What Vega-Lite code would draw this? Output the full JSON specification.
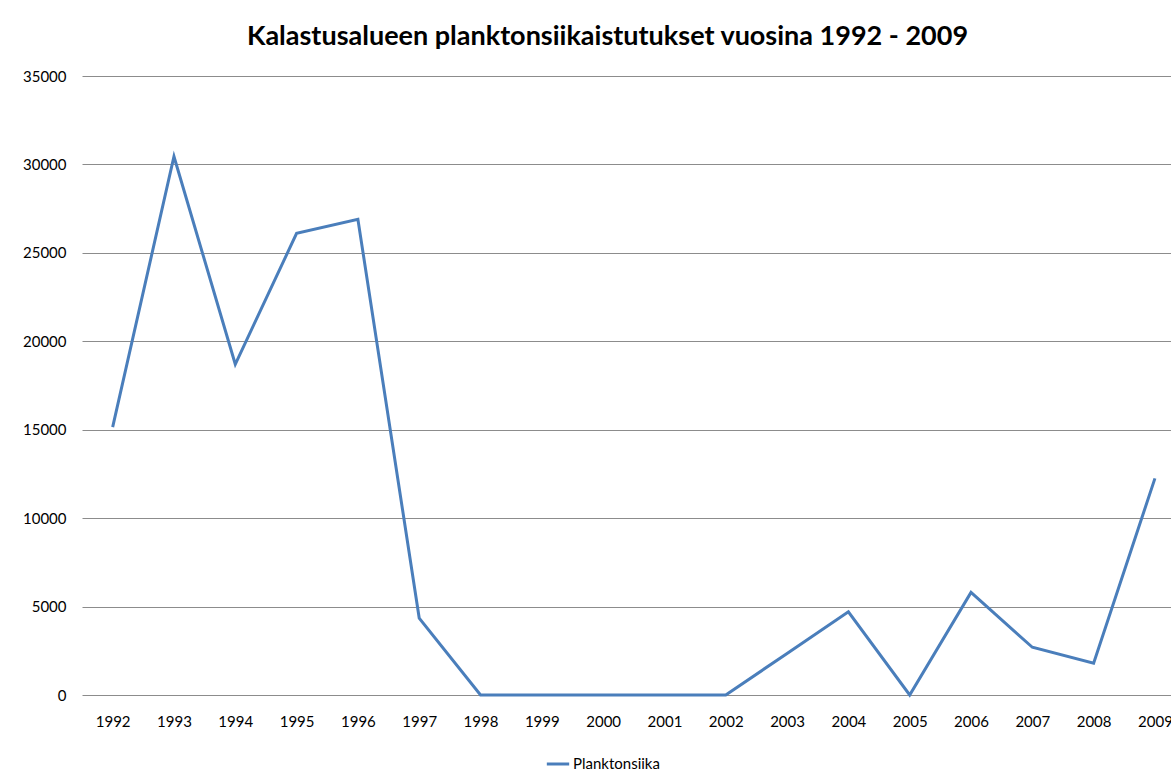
{
  "$schema": "https://vega.github.io/schema/vega-lite/v6.json",
  "width": 1089,
  "height": 619,
  "autosize": "none",
  "padding": {"left": 82, "top": 76, "right": 0, "bottom": 77},
  "background": "white",
  "title": {
    "text": "Kalastusalueen planktonsiikaistutukset vuosina 1992 - 2009",
    "font": "Lato",
    "fontSize": 27,
    "fontWeight": "bold",
    "color": "black",
    "anchor": "middle",
    "frame": "group",
    "dx": -19,
    "offset": 18
  },
  "config": {
    "view": {"stroke": null},
    "font": "Lato"
  },
  "data": {
    "values": [
      {"vuosi": 1992, "arvo": 15150, "sarja": "Planktonsiika"},
      {"vuosi": 1993, "arvo": 30450, "sarja": "Planktonsiika"},
      {"vuosi": 1994, "arvo": 18700, "sarja": "Planktonsiika"},
      {"vuosi": 1995, "arvo": 26100, "sarja": "Planktonsiika"},
      {"vuosi": 1996, "arvo": 26900, "sarja": "Planktonsiika"},
      {"vuosi": 1997, "arvo": 4350, "sarja": "Planktonsiika"},
      {"vuosi": 1998, "arvo": 0, "sarja": "Planktonsiika"},
      {"vuosi": 1999, "arvo": 0, "sarja": "Planktonsiika"},
      {"vuosi": 2000, "arvo": 0, "sarja": "Planktonsiika"},
      {"vuosi": 2001, "arvo": 0, "sarja": "Planktonsiika"},
      {"vuosi": 2002, "arvo": 0, "sarja": "Planktonsiika"},
      {"vuosi": 2003, "arvo": 2350, "sarja": "Planktonsiika"},
      {"vuosi": 2004, "arvo": 4700, "sarja": "Planktonsiika"},
      {"vuosi": 2005, "arvo": 0, "sarja": "Planktonsiika"},
      {"vuosi": 2006, "arvo": 5800, "sarja": "Planktonsiika"},
      {"vuosi": 2007, "arvo": 2700, "sarja": "Planktonsiika"},
      {"vuosi": 2008, "arvo": 1800, "sarja": "Planktonsiika"},
      {"vuosi": 2009, "arvo": 12250, "sarja": "Planktonsiika"}
    ]
  },
  "mark": {"type": "line", "strokeWidth": 3, "clip": false},
  "encoding": {
    "x": {
      "field": "vuosi",
      "type": "quantitative",
      "scale": {"domain": [1991.5, 2009.262], "nice": false, "zero": false},
      "axis": {
        "title": null,
        "values": [1992,1993,1994,1995,1996,1997,1998,1999,2000,2001,2002,2003,2004,2005,2006,2007,2008,2009],
        "format": "d",
        "grid": false,
        "ticks": false,
        "domain": false,
        "labelFont": "Lato",
        "labelFontSize": 15,
        "labelColor": "black",
        "labelPadding": 19,
        "labelFlush": false,
        "labelOverlap": false
      }
    },
    "y": {
      "field": "arvo",
      "type": "quantitative",
      "scale": {"domain": [0, 35000], "nice": false},
      "axis": {
        "title": null,
        "values": [0, 5000, 10000, 15000, 20000, 25000, 30000, 35000],
        "format": "d",
        "grid": true,
        "gridColor": "#8c8c8c",
        "gridWidth": 1,
        "ticks": false,
        "domain": false,
        "labelFont": "Lato",
        "labelFontSize": 15,
        "labelColor": "black",
        "labelPadding": 16
      }
    },
    "color": {
      "field": "sarja",
      "type": "nominal",
      "scale": {"range": ["#4a7ebb"]},
      "legend": {
        "title": null,
        "orient": "none",
        "legendX": 463,
        "legendY": 675,
        "symbolType": "stroke",
        "symbolStrokeWidth": 3,
        "symbolSize": 500,
        "labelFont": "Lato",
        "labelFontSize": 15,
        "labelColor": "black",
        "labelOffset": 2
      }
    }
  }
}
